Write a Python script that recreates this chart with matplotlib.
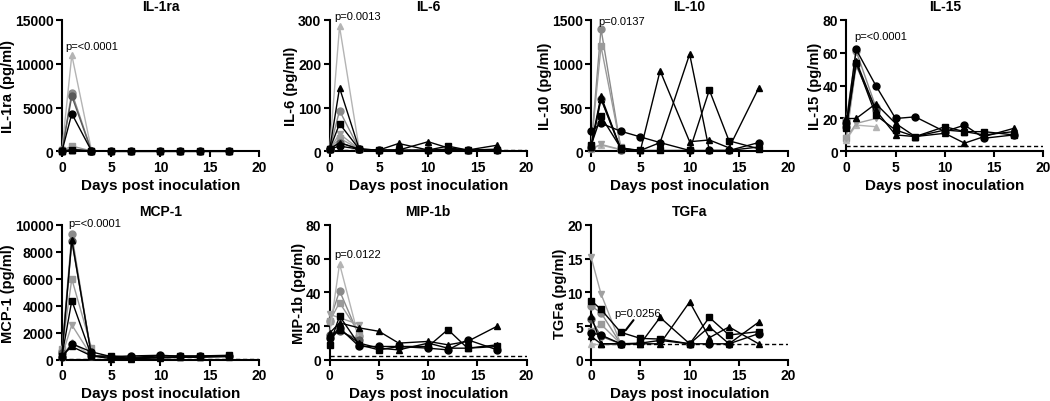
import numpy as np
import matplotlib
matplotlib.use("Agg")
import matplotlib.pyplot as plt

plt.rcParams['font.family'] = ['Liberation Sans', 'DejaVu Sans']

# sampling days
days_full = [0, 1, 3, 5, 7, 10, 12, 14, 17]   # animals followed to the end
days_short = [0, 1, 3]                         # animals sampled to day 3

# animals: 4 followed to day 17 (black), 5 sampled to day 3 (greys)
animal_colors = ['black', 'black', 'black', 'black',
                 '#8a8a8a', '#9a9a9a', '#b4b4b4', '#a0a0a0', '#5a5a5a']
animal_markers = ['o', 's', '^', '^', 'o', 's', '^', 'v', 'o']

# rows follow the animal order above (first 4 full, last 5 short)
il1ra = [[0, 4300, 50, 0, 0, 0, 0, 0, 0],
         [0, 200, 50, 0, 0, 0, 0, 0, 0],
         [0, 150, 50, 0, 0, 0, 0, 0, 0],
         [0, 100, 50, 0, 0, 0, 0, 0, 0],
         [100, 6700, 50], [100, 600, 50], [100, 11000, 100],
         [100, 300, 50], [100, 6300, 50]]
il6 = [[5, 12, 5, 2, 2, 2, 2, 2, 2],
       [5, 63, 5, 3, 3, 3, 12, 3, 3],
       [5, 145, 5, 3, 18, 3, 5, 3, 14],
       [5, 20, 5, 3, 3, 22, 8, 3, 5],
       [5, 93, 5], [5, 30, 5], [5, 285, 5], [5, 40, 5], [5, 20, 5]]
il10 = [[230, 320, 230, 165, 100, 10, 10, 10, 100],
        [70, 400, 40, 10, 10, 10, 700, 120, 30],
        [80, 630, 30, 10, 920, 110, 130, 40, 720],
        [50, 600, 30, 10, 100, 1110, 10, 10, 50],
        [50, 1400, 40], [60, 1200, 50], [30, 70, 20], [30, 80, 20], [40, 600, 20]]
il15 = [[17, 62, 40, 20, 21, 12, 16, 8, 10],
        [14, 54, 22, 13, 9, 15, 12, 12, 10],
        [20, 20, 29, 17, 9, 11, 5, 9, 14],
        [15, 55, 25, 10, 9, 13, 12, 10, 12],
        [19, 61, 27], [8, 52, 26], [7, 16, 15], [8, 17, 20], [15, 53, 25]]
mcp1 = [[200, 1200, 600, 250, 300, 350, 280, 280, 300],
        [300, 4400, 300, 300, 200, 300, 300, 300, 350],
        [400, 8900, 300, 200, 150, 200, 250, 250, 300],
        [300, 1000, 300, 100, 100, 150, 200, 200, 250],
        [700, 9300, 300], [800, 6000, 900], [200, 1300, 300],
        [300, 2600, 300], [500, 8800, 400]]
mip1b = [[13, 19, 8, 8, 8, 7, 6, 12, 6],
         [9, 26, 9, 6, 8, 8, 18, 7, 8],
         [16, 22, 19, 17, 10, 11, 9, 11, 20],
         [12, 18, 10, 7, 6, 10, 7, 7, 9],
         [23, 41, 14], [23, 34, 16], [16, 57, 12], [27, 25, 21], [15, 17, 12]]
tgfa = [[4, 3.7, 2.4, 2.5, 2.9, 2.4, 2.4, 2.4, 3.9],
        [8.8, 7.5, 4.1, 3.2, 3.1, 2.4, 6.3, 3.7, 4.2],
        [6.5, 2.4, 2.4, 2.4, 6.3, 2.4, 4.9, 2.4, 5.6],
        [3.5, 2.4, 2.4, 2.4, 2.4, 8.6, 3.3, 4.9, 2.4],
        [8, 7, 2.4], [4.3, 5.3, 2.4], [2.4, 2.4, 2.4], [15.2, 9.8, 2.4], [6, 3.5, 2.4]]

names = ['IL-1ra', 'IL-6', 'IL-10', 'IL-15', 'MCP-1', 'MIP-1b', 'TGFa']
datasets = [il1ra, il6, il10, il15, mcp1, mip1b, tgfa]
ymax = [15000, 300, 1500, 80, 10000, 80, 20]
ystep = [5000, 100, 500, 20, 2000, 20, 5]
lod = [30, 3, 8, 3, 60, 2.5, 2.4]          # dashed detection limit
pvals = ['p=<0.0001', 'p=0.0013', 'p=0.0137', 'p=<0.0001',
         'p=<0.0001', 'p=0.0122', 'p=0.0256']
p_pos = [(0.3, 12000), (0.5, 310), (0.7, 1490), (0.8, 70),
         (0.6, 10150), (0.5, 63), (2.3, 7.0)]

fig = plt.figure(figsize=(10.5, 4.02), dpi=100)
lefts = [0.059, 0.314, 0.563, 0.806]
w = 0.1876
boxes = [(lefts[0], 0.621, w, 0.327), (lefts[1], 0.621, w, 0.327),
         (lefts[2], 0.621, w, 0.327), (lefts[3], 0.621, w, 0.327),
         (lefts[0], 0.102, w, 0.336), (lefts[1], 0.102, w, 0.336),
         (lefts[2], 0.102, w, 0.336)]

for i, name in enumerate(names):
    ax = fig.add_axes(boxes[i])
    rows = datasets[i]
    # draw short (grey) animals first, black on top
    order = list(range(4, 9)) + list(range(0, 4))
    for j in order:
        vals = rows[j]
        xs = days_full if len(vals) == len(days_full) else days_short
        ax.plot(xs, vals, color=animal_colors[j], marker=animal_markers[j],
                markersize=5, lw=1, clip_on=False, zorder=3)
    ax.axhline(lod[i], color='black', lw=1, ls=(0, (3, 2)), zorder=2)
    ax.set_xlim(0, 20)
    ax.set_ylim(0, ymax[i])
    ax.set_xticks([0, 5, 10, 15, 20])
    ax.set_yticks(np.arange(0, ymax[i] + 1, ystep[i]))
    for s in ['top', 'right']:
        ax.spines[s].set_visible(False)
    for s in ['left', 'bottom']:
        ax.spines[s].set_linewidth(1.5)
    ax.tick_params(width=1.5, length=4, labelsize=10, pad=2)
    for lab in ax.get_xticklabels() + ax.get_yticklabels():
        lab.set_fontweight('bold')
    ax.set_title(name, fontsize=10, fontweight='bold', pad=7)
    ax.set_xlabel('Days post inoculation', fontsize=11, fontweight='bold', labelpad=3)
    ax.set_ylabel(name + ' (pg/ml)', fontsize=10.5, fontweight='bold', labelpad=0)
    ax.text(p_pos[i][0], p_pos[i][1], pvals[i], fontsize=8, va='center',
            ha='left', clip_on=False)

# pointer line for the TGFa p-value
fig.axes[6].annotate('', xy=(3.5, 4.4), xytext=(4.3, 5.9),
                     arrowprops=dict(arrowstyle='-', lw=1.5, color='black',
                                     shrinkA=0, shrinkB=0))

fig.savefig('out.png', dpi=100)
